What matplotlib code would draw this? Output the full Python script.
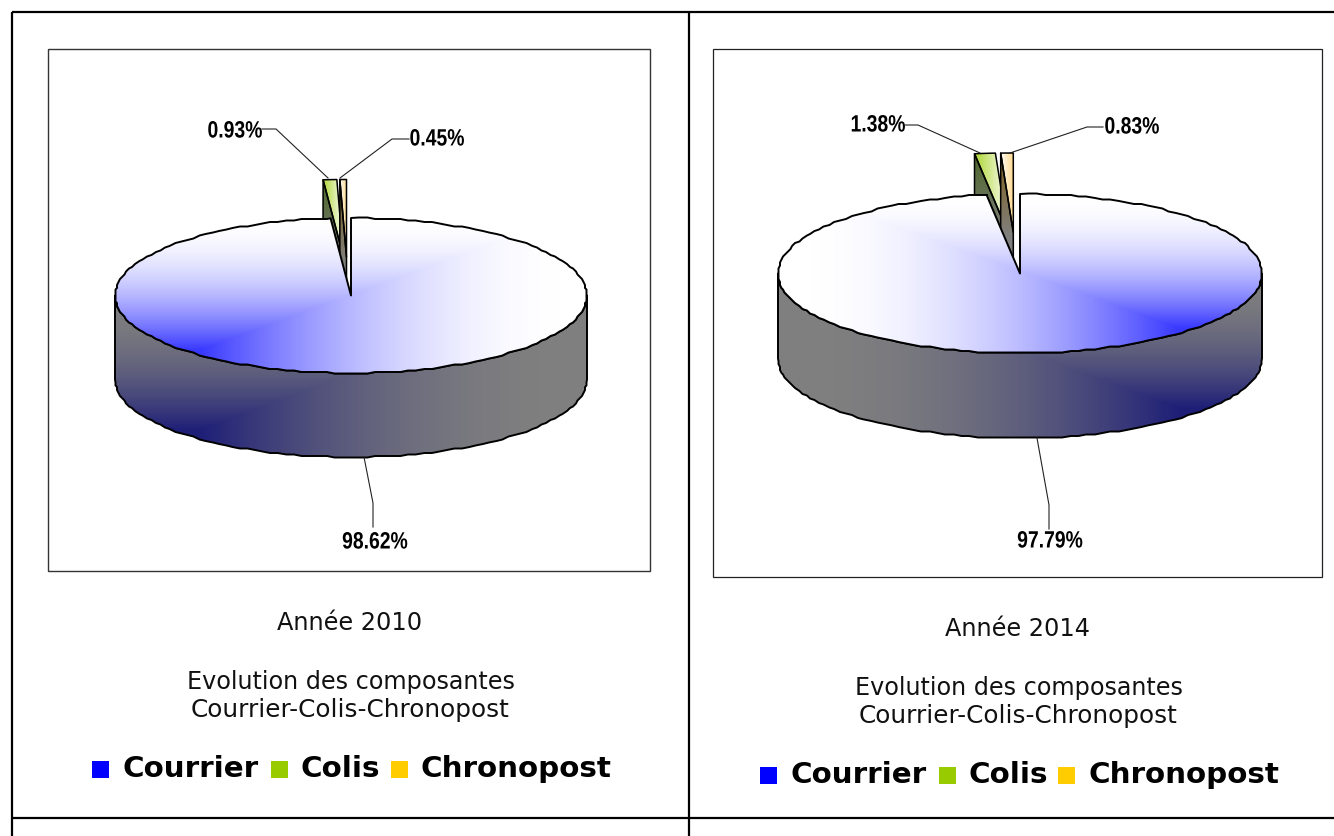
import numpy as np
import matplotlib
matplotlib.use('Agg')
import matplotlib.pyplot as plt
from matplotlib.patches import Polygon, Rectangle
from matplotlib.patheffects import AbstractPathEffect
from matplotlib.transforms import Affine2D
from matplotlib.colors import to_rgb

# Data -----------------------------------------------------------------
categories = ['Courrier', 'Colis', 'Chronopost']
colors = ['#0000ff', '#99cc00', '#ffcc00']
years = ['Année 2010', 'Année 2014']
values_2010 = [98.62, 0.93, 0.45]
values_2014 = [97.79, 1.38, 0.83]
subtitle_lines = ['Evolution des composantes', 'Courrier-Colis-Chronopost']

W, H = 1334, 836
fig = plt.figure(figsize=(W / 100, H / 100), dpi=100)
ax = fig.add_axes([0, 0, 1, 1])
ax.axis('off')


class Squeeze(AbstractPathEffect):
    '''Narrow a text around its centre, the labels use a condensed face.'''
    def __init__(self, factor):
        super().__init__()
        self.factor = factor

    def draw_path(self, renderer, gc, tpath, affine, rgbFace=None):
        box = tpath.transformed(affine).get_extents()
        x0 = (box.x0 + box.x1) / 2
        squeeze = Affine2D().translate(-x0, 0).scale(self.factor, 1).translate(x0, 0)
        renderer.draw_path(gc, tpath, affine + squeeze, rgbFace)


def rim(cx, cy, rx, ry, a0, a1, rough=0):
    '''Points of the ellipse, angles in degrees clockwise from 12 o'clock.'''
    inner = np.arange(np.ceil(a0 / 2 + 0.01) * 2, a1 - 0.01, 2.0)  # fixed grid, so wall and top share points
    a = np.radians(np.r_[a0, inner, a1])
    pts = np.c_[cx + rx * np.sin(a), cy - ry * np.cos(a)]
    if rough:
        # the original outline is a low resolution stepped line
        pts[1:-1] = np.round(pts[1:-1] / rough) * rough
    return pts


def fill(poly, rgb, zorder, lw=1.4):
    '''Paint an RGB array (with its extent) clipped by a black outlined polygon.'''
    img, extent = rgb
    patch = Polygon(poly, closed=True, fc='none', ec='black', lw=lw, zorder=zorder + 0.5, joinstyle='round')
    ax.add_patch(patch)
    im = ax.imshow(img, extent=extent, origin='upper', aspect='auto', zorder=zorder, interpolation='bilinear')
    im.set_clip_path(patch)


def corner_gradient(poly, hx, hy, sx, sy, side, c_hot, c_end):
    '''Corner shading: flat bands above the hot spot and along x on one side.'''
    x0, y0 = np.floor(poly.min(axis=0)) - 2
    x1, y1 = np.ceil(poly.max(axis=0)) + 2
    xs, ys = np.meshgrid(np.arange(x0, x1), np.arange(y0, y1))
    dx = np.clip((xs - hx) * side / sx, 0, 1)
    dy = np.clip((hy - ys) / sy, 0, 1)
    t = (1 - np.maximum(dx, dy))[..., None] ** 1.9
    img = np.array(c_end) + (np.array(c_hot) - np.array(c_end)) * t
    return img, (x0, x1, y1, y0)


def linear_x(poly, c_left, c_right):
    x0, y0 = poly.min(axis=0)
    x1, y1 = poly.max(axis=0)
    t = np.linspace(0, 1, 32)[None, :, None]
    return np.array(c_left) + (np.array(c_right) - np.array(c_left)) * t, (x0 - 1, x1 + 1, y1 + 1, y0 - 1)


def linear_y(poly, c_top, c_bottom, length):
    x0, y0 = poly.min(axis=0)
    x1, y1 = poly.max(axis=0)
    t = np.clip(np.linspace(0, (y1 - y0) / length, 32), 0, 1)[:, None, None]
    return np.array(c_top) + (np.array(c_bottom) - np.array(c_top)) * t, (x0 - 1, x1 + 1, y1 + 1, y0 - 1)


def draw_pie(values, cx, cy, rx, ry, depth, side, hot, offsets):
    angles = np.r_[0, np.cumsum(values)] / np.sum(values) * 360

    # exploded small slices, behind the big one
    face_dark = [(0.30, 0.40, 0.16), (0.50, 0.38, 0.10)]
    for i in (1, 2):
        ox, oy = offsets[i - 1]
        sx, sy = cx + ox, cy + oy
        arc = rim(sx, sy, rx, ry, angles[i], angles[i + 1])
        p = arc[0]
        face = np.array([p, (sx, sy), (sx, sy + depth), (p[0], p[1] + depth)])
        fill(face, linear_y(face, face_dark[i - 1], (0.5, 0.5, 0.5), 85), 2 + i, lw=1.1)
        top = np.vstack([arc, (sx, sy)])
        if i == 1:
            base = to_rgb(colors[i])
            fill(top, linear_x(top, tuple(0.8 * b + 0.2 for b in base), (1, 1, 1)), 2 + i, lw=1.1)
        else:
            fill(top, linear_x(top, (1, 1, 1), (1.0, 0.83, 0.5)), 2 + i, lw=1.1)

    # big slice: side wall then top
    arc = rim(cx, cy, rx, ry, angles[0], angles[1], rough=1.5)
    wall_arc = rim(cx, cy, rx, ry, 90, 270, rough=1.5)
    wall = np.vstack([wall_arc, wall_arc[::-1] + (0, depth)])
    hx = cx - side * hot
    fill(wall, corner_gradient(wall, hx, cy + 134, rx + 125, 135, side, (0.12, 0.12, 0.47), (0.5, 0.5, 0.5)), 6)
    top = np.vstack([arc, (cx, cy)])
    fill(top, corner_gradient(top, hx, cy + 54, rx + 125, 132, side, (0.22, 0.22, 1.0), (1, 1, 1)), 7)


def draw_labels(values, spots, leaders):
    for v, (x, y), leader in zip(values, spots, leaders):
        ax.plot(*zip(*leader), color='#222222', lw=0.8, zorder=9, solid_joinstyle='miter')
        ax.text(x, y, f'{v:.2f}%', ha='center', va='center', fontsize=17, fontweight='bold',
                family='Liberation Sans', color='black', zorder=10, path_effects=[Squeeze(0.82)])


def draw_captions(year, x, y):
    ax.text(x, y, year, ha='center', va='center', fontsize=17.3, color='#111111')
    ax.text(x + 1, y + 58, subtitle_lines[0], ha='center', va='center', fontsize=17.2, color='#111111')
    ax.text(x + 1, y + 87, subtitle_lines[1], ha='center', va='center', fontsize=17.8, color='#111111')


def draw_legend(xs_box, xs_text, y):
    for name, color, xb, xt in zip(categories, colors, xs_box, xs_text):
        ax.add_patch(Rectangle((xb, y - 8.5), 17, 17, fc=color, ec='none'))
        ax.text(xt, y, name, ha='left', va='center', fontsize=21.2, fontweight='bold', color='black')


# Table frame ----------------------------------------------------------
for xs, ys in [((12, 12), (12, H)), ((689, 689), (12, H)), ((12, W), (12, 12)), ((12, W), (818, 818))]:
    ax.plot(xs, ys, color='black', lw=1.6, solid_capstyle='butt', zorder=1)

# Chart boxes
ax.add_patch(Rectangle((48, 49), 602, 522, fc='white', ec='#333333', lw=1.0, zorder=1))
ax.add_patch(Rectangle((712.5, 49), 609.5, 528, fc='white', ec='#222222', lw=0.9, zorder=1))

# Left pie
draw_pie(values_2010, 351, 295.5, 236, 77.5, 84, 1, 151, [(-7.5, -38.5), (-4.5, -38.5)])
draw_labels([values_2010[1], values_2010[2], values_2010[0]],
            [(235, 131), (437, 139), (375, 542)],
            [[(262, 129), (276, 129), (328, 178)],
             [(409, 139), (392, 139), (340, 178)],
             [(364, 457), (373, 503), (373, 527)]])

# Right pie
draw_pie(values_2014, 1020, 273.5, 242, 79.5, 85, -1, 158, [(-12, -41), (-6.7, -41)])
draw_labels([values_2014[1], values_2014[2], values_2014[0]],
            [(878, 125), (1132, 127), (1050, 541)],
            [[(905, 125), (918, 125), (980, 153)],
             [(1103, 127), (1087, 127), (1010, 153)],
             [(1037, 438), (1049, 505), (1049, 529)]])

# Captions
draw_captions(years[0], 349.5, 623.5)
draw_captions(years[1], 1017.5, 629.5)

draw_legend([92, 271, 391], [123, 301, 421], 769)
draw_legend([760, 939, 1058], [791, 969, 1089], 775)

ax.set_xlim(0, W)
ax.set_ylim(H, 0)
fig.savefig('out.png', dpi=100, facecolor='white')
